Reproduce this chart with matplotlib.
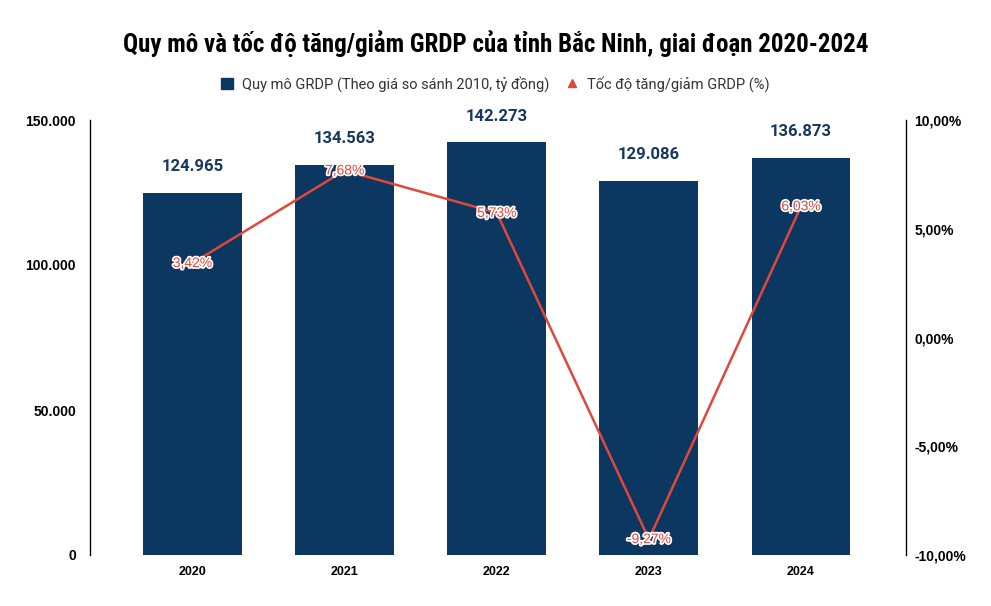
import matplotlib.pyplot as plt
import matplotlib.patheffects as pe
from matplotlib.lines import Line2D
from matplotlib.patches import Patch

years = ["2020", "2021", "2022", "2023", "2024"]
grdp = [124965, 134563, 142273, 129086, 136873]
growth = [3.42, 7.68, 5.73, -9.27, 6.03]

bar_color = "#0b3761"
line_color = "#e0483b"

plt.rcParams["font.family"] = ["Liberation Sans", "DejaVu Sans"]

fig = plt.figure(figsize=(9.91, 6.06), dpi=100)
ax = fig.add_axes([90 / 991, 51 / 606, 816 / 991, 435 / 606])
x = list(range(len(years)))

ax.bar(x, grdp, width=0.65, color=bar_color, zorder=2)
ax.set_ylim(0, 150000)
ax.set_xlim(-0.674, 4.69)
ax.set_yticks([0, 50000, 100000, 150000])
ax.set_yticklabels(["0", "50.000", "100.000", "150.000"])
ax.set_xticks(x)
ax.set_xticklabels(years)
for s in ["top", "right", "bottom"]:
    ax.spines[s].set_visible(False)
ax.spines["left"].set_linewidth(1.0)
ax.tick_params(axis="y", length=0, pad=10, labelsize=10)
ax.tick_params(axis="x", length=0, pad=8, labelsize=9)
for t in ax.get_yticklabels() + ax.get_xticklabels():
    t.set_fontweight("bold")

for xi, v in zip(x, grdp):
    ax.annotate(f"{v:,}".replace(",", "."), (xi, v), xytext=(0, 19), textcoords="offset points",
                ha="center", va="center", fontsize=12, fontweight="bold", color="#17375e",
                family=["Roboto", "DejaVu Sans"])

ax2 = ax.twinx()
ax2.plot(x, growth, color=line_color, lw=1.8, zorder=3)
ax2.set_ylim(-10, 10)
ax2.set_yticks([-10, -5, 0, 5, 10])
ax2.set_yticklabels(["-10,00%", "-5,00%", "0,00%", "5,00%", "10,00%"])
for s in ["top", "left", "bottom"]:
    ax2.spines[s].set_visible(False)
ax2.spines["right"].set_linewidth(1.0)
ax2.tick_params(axis="y", length=0, pad=6, labelsize=10)
for t in ax2.get_yticklabels():
    t.set_fontweight("bold")

for xi, g in zip(x, growth):
    ax2.text(xi, g, f"{g:.2f}%".replace(".", ","), ha="center", va="center", fontsize=10,
             color=line_color,
             path_effects=[pe.withStroke(linewidth=2.5, foreground="white")], zorder=4)

fig.text(0.5, 562 / 606, "Quy mô và tốc độ tăng/giảm GRDP của tỉnh Bắc Ninh, giai đoạn 2020-2024",
         ha="center", va="center", fontsize=18, fontweight="bold", fontstretch="condensed",
         family=["Roboto Condensed", "Roboto", "DejaVu Sans"])

handles = [Patch(color=bar_color),
           Line2D([], [], marker="^", color=line_color, lw=0, markersize=6)]
fig.legend(handles, ["Quy mô GRDP (Theo giá so sánh 2010, tỷ đồng)", "Tốc độ tăng/giảm GRDP (%)"],
           loc="center", bbox_to_anchor=(0.5, 522 / 606), ncol=2, frameon=False,
           prop={"family": ["Roboto", "DejaVu Sans"], "size": 10.5}, handlelength=0.8,
           handletextpad=0.6, columnspacing=1.2, labelcolor="#333333")

fig.savefig("out.png", dpi=100)
